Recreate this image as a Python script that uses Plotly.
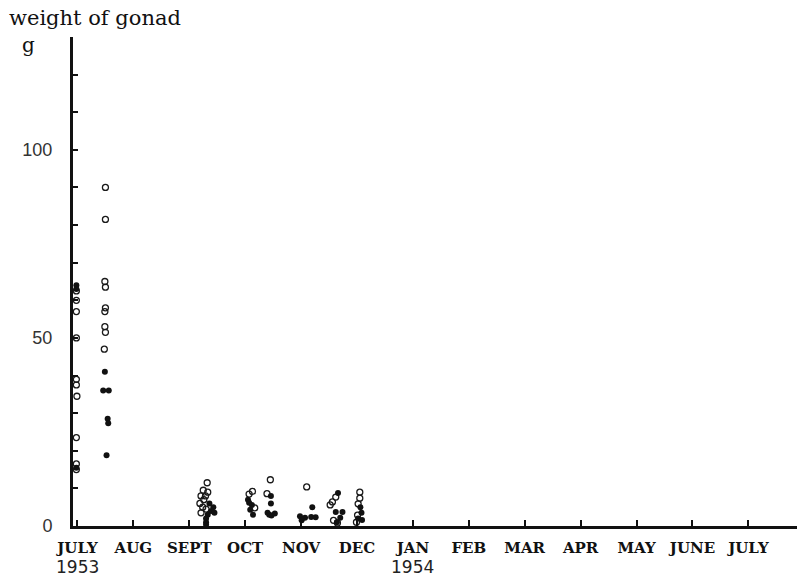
import plotly.graph_objects as go

# x in months after July 1953 (0 = JULY 1953, 12 = JULY 1954)
month_labels = ["JULY", "AUG", "SEPT", "OCT", "NOV", "DEC", "JAN",
                "FEB", "MAR", "APR", "MAY", "JUNE", "JULY"]
month_pos = list(range(13))
year_labels = ["1953", "1954"]
year_pos = [0, 6]

# open circles
open_x = [-0.02, -0.02, -0.02, -0.02, -0.02, -0.01, -0.02, -0.02, -0.02, -0.02,
          0.50, 0.50, 0.49, 0.50, 0.50, 0.49, 0.49, 0.50, 0.48,
          2.32, 2.25, 2.33, 2.21, 2.29, 2.26, 2.19, 2.24, 2.30, 2.21,
          3.07, 3.13, 3.17, 3.45, 3.39,
          4.10,
          4.62, 4.56, 4.52, 4.58, 4.65,
          5.05, 5.05, 5.02, 5.01, 4.99]
open_y = [60, 57, 50, 39, 37.5, 34.5, 23.5, 16.5, 15, 62.5,
          90, 81.5, 65, 63.5, 58, 57, 53, 51.5, 47,
          11.5, 9.5, 9.0, 8.0, 8.0, 7.0, 6.0, 5.0, 4.5, 3.5,
          8.5, 9.2, 4.8, 12.3, 8.6,
          10.4,
          7.7, 6.4, 5.6, 1.5, 0.8,
          9.0, 7.4, 5.9, 2.9, 1.0]

# filled dots
fill_x = [-0.02, -0.02, -0.02,
          0.49, 0.46, 0.56, 0.54, 0.55, 0.52,
          2.36, 2.43, 2.39, 2.45, 2.33, 2.30, 2.30, 2.30,
          3.05, 3.12, 3.09, 3.14, 3.07,
          3.46, 3.46, 3.40, 3.47, 3.53, 3.43,
          3.98, 4.20, 4.07, 4.18, 4.26, 4.01,
          4.66, 4.62, 4.74, 4.64, 4.70,
          5.06, 5.08, 5.09, 5.02]
fill_y = [64, 63, 15.5,
          41, 36, 36, 28.5, 27.3, 18.8,
          6.0, 5.0, 4.0, 3.5, 3.0, 2.0, 1.0, 0.3,
          7.0, 5.6, 4.3, 3.0, 6.2,
          8.0, 6.0, 3.5, 2.8, 3.3, 3.0,
          2.6, 5.0, 2.2, 2.4, 2.3, 1.5,
          8.8, 3.7, 3.7, 1.0, 2.2,
          5.0, 3.5, 1.6, 2.0]

y_ticks = list(range(0, 130, 10))
y_ticktext = [str(v) if v in (0, 50, 100) else "" for v in y_ticks]

fig = go.Figure()
fig.add_trace(go.Scatter(
    x=open_x, y=open_y, mode="markers", cliponaxis=False,
    marker=dict(symbol="circle-open", size=6, color="#1a1a1a",
                line=dict(width=1.3, color="#1a1a1a")),
    showlegend=False))
fig.add_trace(go.Scatter(
    x=fill_x, y=fill_y, mode="markers", cliponaxis=False,
    marker=dict(symbol="circle", size=6, color="#111111"),
    showlegend=False))

for yl, yp in zip(year_labels, year_pos):
    fig.add_annotation(x=yp, y=0, xref="x", yref="paper", yshift=-41,
                       text=yl, showarrow=False,
                       font=dict(family="DejaVu Sans", size=17, color="#222"),
                       xanchor="center", yanchor="middle")

fig.add_annotation(xref="paper", yref="paper", x=-66 / 724, y=1 + 19 / 489,
                   xanchor="left", yanchor="middle",
                   text="weight of gonad", showarrow=False,
                   font=dict(family="DejaVu Serif", size=21, color="#111"))
fig.add_annotation(xref="paper", yref="paper", x=-45 / 724, y=1 - 8 / 489,
                   text="g", showarrow=False, xanchor="center", yanchor="middle",
                   font=dict(family="DejaVu Serif", size=20, color="#111"))

fig.update_layout(
    width=799, height=579,
    margin=dict(l=73, r=2, t=37, b=53),
    paper_bgcolor="white", plot_bgcolor="white",
    xaxis=dict(range=[-0.08, 12.87], tickmode="array", tickvals=month_pos,
               ticktext=month_labels, ticks="inside", ticklen=6, tickwidth=1.5,
               tickcolor="#111", showgrid=False, zeroline=False,
               showline=True, linecolor="#111", linewidth=2.5,
               ticklabelstandoff=6,
               tickfont=dict(family="DejaVu Serif", size=15, color="#111",
                             weight="bold")),
    yaxis=dict(range=[0, 130], tickmode="array", tickvals=y_ticks,
               ticktext=y_ticktext, ticks="inside", ticklen=5, tickwidth=1.5,
               tickcolor="#111", showgrid=False, zeroline=False,
               showline=True, linecolor="#111", linewidth=3,
               ticklabelstandoff=14,
               tickfont=dict(family="Liberation Sans", size=18, color="#333")),
)

fig.write_html("out.html")
